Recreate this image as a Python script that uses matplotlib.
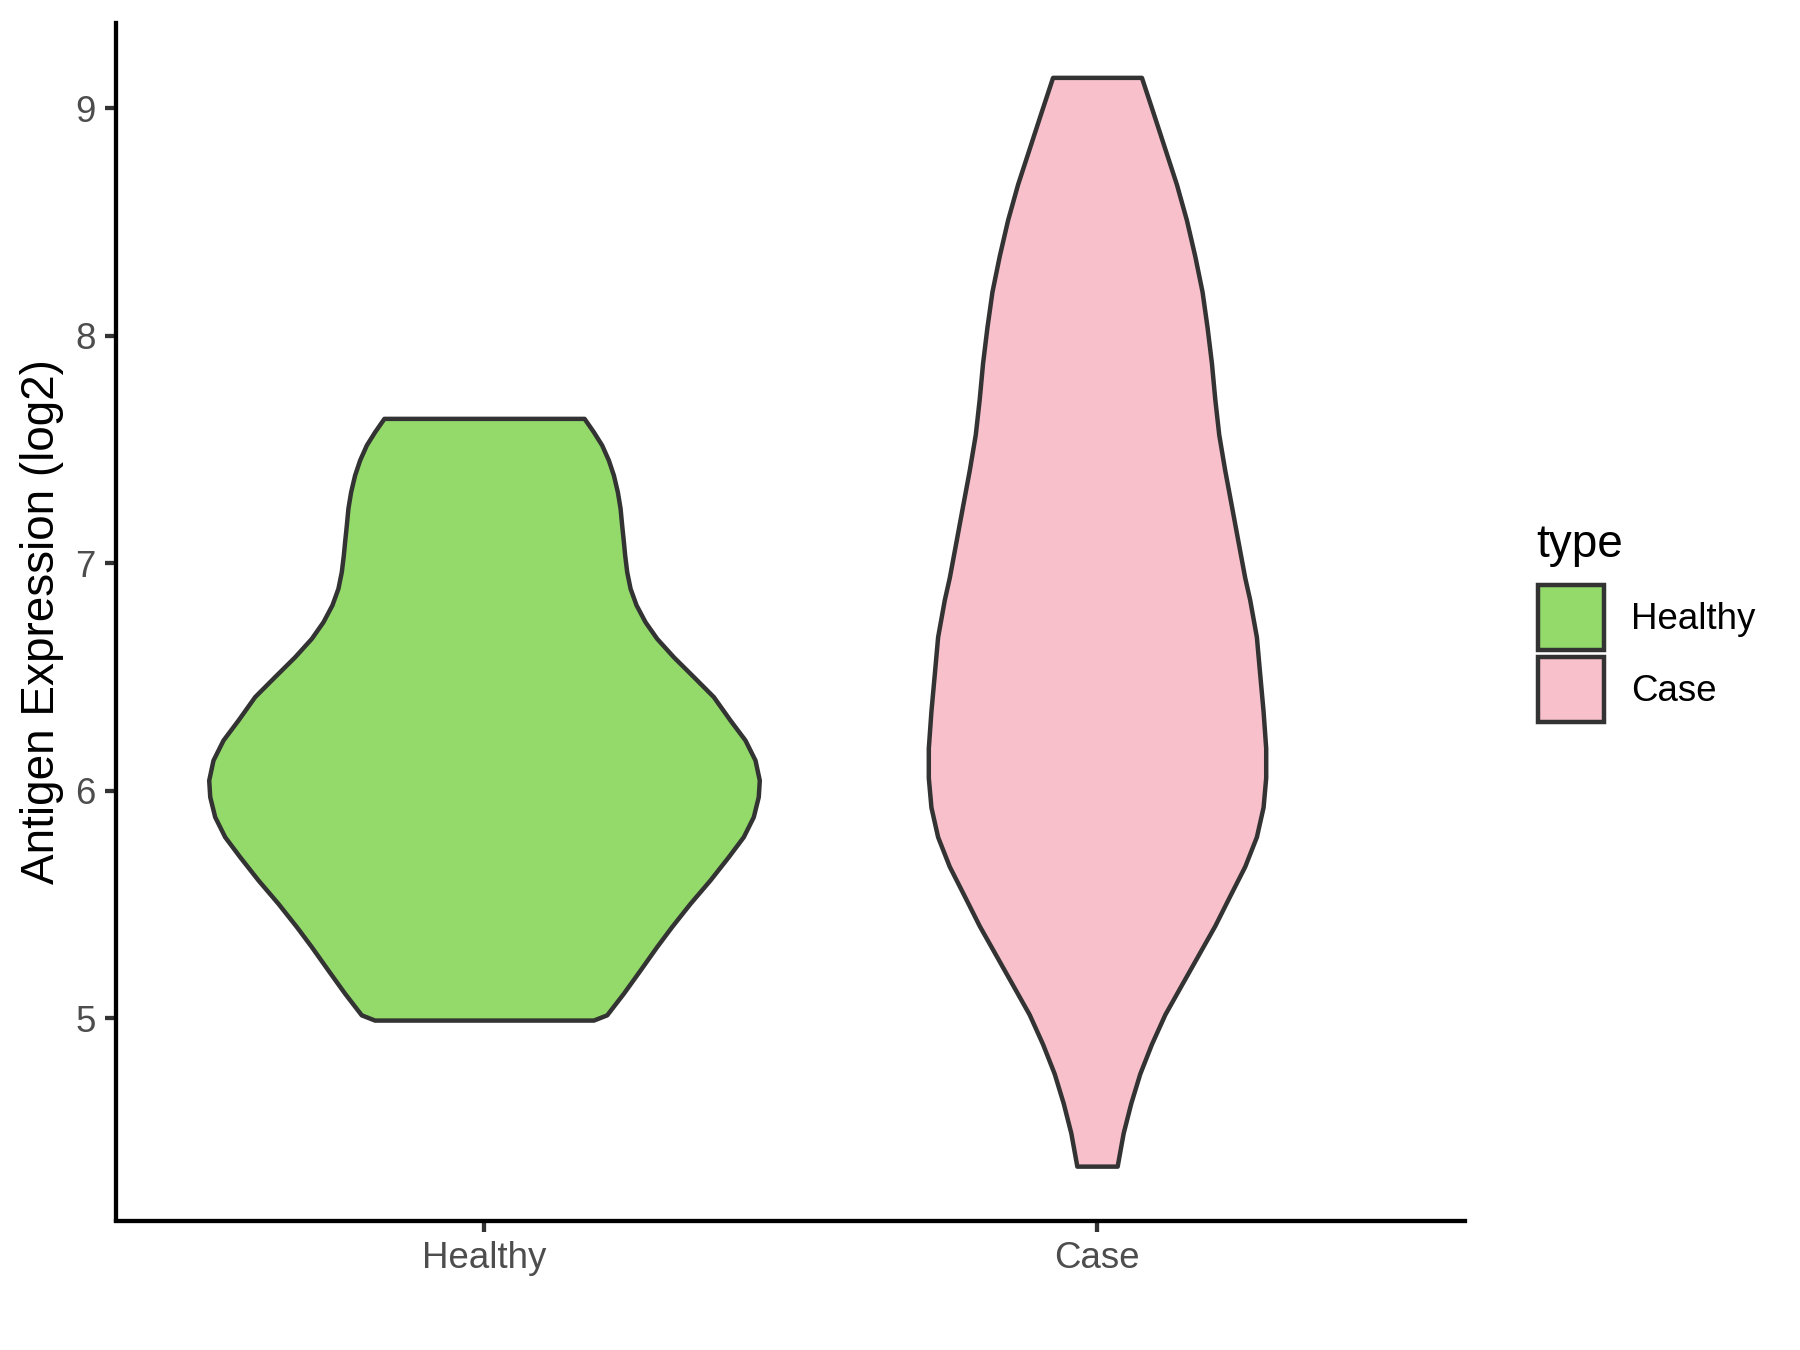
import matplotlib
matplotlib.use("Agg")
import matplotlib.pyplot as plt
from matplotlib.patches import Patch, Rectangle
from matplotlib.legend_handler import HandlerPatch
import numpy as np

plt.rcParams['font.family'] = ['Liberation Sans', 'DejaVu Sans']

# ---- data ----
categories = ["Healthy", "Case"]
colors = ["#93DA6B", "#F8C0CB"]
edge_color = "#333333"

# violin outline profiles: y value and half-width (x data units)
healthy_y = [7.637, 7.578, 7.520, 7.454, 7.388, 7.314, 7.242, 7.168, 7.095, 7.036,
             6.963, 6.890, 6.817, 6.743, 6.670, 6.589, 6.502, 6.414, 6.311, 6.223,
             6.135, 6.047, 5.974, 5.886, 5.798, 5.710, 5.608, 5.505, 5.403, 5.315,
             5.212, 5.110, 5.015, 4.992]
healthy_hw = [0.1633, 0.1785, 0.1920, 0.2029, 0.2111, 0.2176, 0.2220, 0.2246, 0.2274, 0.2295,
              0.2328, 0.2383, 0.2481, 0.2627, 0.2817, 0.3089, 0.3415, 0.3741, 0.4013, 0.4258,
              0.4421, 0.4491, 0.4474, 0.4393, 0.4230, 0.3985, 0.3687, 0.3361, 0.3061, 0.2817,
              0.2546, 0.2274, 0.2002, 0.1785]

case_y = [9.136, 8.980, 8.823, 8.666, 8.509, 8.351, 8.194, 8.037, 7.880, 7.723,
          7.566, 7.409, 7.252, 7.095, 6.937, 6.840, 6.677, 6.514, 6.351, 6.188,
          6.058, 5.928, 5.798, 5.668, 5.538, 5.407, 5.277, 5.147, 5.017, 4.887,
          4.757, 4.627, 4.496, 4.398, 4.350]
case_hw = [0.0725, 0.0916, 0.1106, 0.1296, 0.1459, 0.1595, 0.1714, 0.1796, 0.1867, 0.1921,
           0.1986, 0.2084, 0.2193, 0.2301, 0.2410, 0.2491, 0.2600, 0.2654, 0.2709, 0.2752,
           0.2752, 0.2709, 0.2600, 0.2410, 0.2165, 0.1921, 0.1649, 0.1377, 0.1106, 0.0888,
           0.0698, 0.0551, 0.0427, 0.0361, 0.0329]

profiles = [(healthy_y, healthy_hw), (case_y, case_hw)]
y_ticks = [5, 6, 7, 8, 9]
y_label = "Antigen Expression (log2)"
legend_title = "type"

# ---- figure ----
W, H = 1800, 1350
fig = plt.figure(figsize=(6, 4.5), dpi=300)
ax = fig.add_axes([116.2 / W, 1 - 1220.5 / H, (1464.8 - 116.2) / W, (1220.5 - 23) / H])

positions = np.arange(1, len(categories) + 1)
for pos, (yv, hw), col in zip(positions, profiles, colors):
    yv = np.asarray(yv)
    hw = np.asarray(hw)
    ax.fill_betweenx(yv, pos - hw, pos + hw, facecolor=col, edgecolor=edge_color,
                     linewidth=1.07, joinstyle='round')

ax.set_xlim(0.4, 2.6)
ax.set_ylim(4.111, 9.375)
ax.set_xticks(positions)
ax.set_xticklabels(categories)
ax.set_yticks(y_ticks)

for s in ['top', 'right']:
    ax.spines[s].set_visible(False)
for s in ['left', 'bottom']:
    ax.spines[s].set_linewidth(1.03)
    ax.spines[s].set_color('black')
    ax.spines[s].set_capstyle('projecting')

ax.tick_params(axis='both', length=2.75, width=1.03, color=edge_color,
               labelsize=8.8, labelcolor='#4D4D4D', pad=2.2)
ax.set_ylabel(y_label, fontsize=11, color='black', labelpad=2.75)


def key_patch(legend, orig_handle, xdescent, ydescent, width, height, fontsize):
    inset = 0.89
    return Rectangle((-xdescent, -ydescent + inset), width, height - 2 * inset)


handles = [Patch(facecolor=c, edgecolor=edge_color, linewidth=1.07, label=l)
           for c, l in zip(colors, categories)]
leg = fig.legend(handles=handles, loc='upper left',
                 bbox_to_anchor=(1537.5 / W, 1 - 581.5 / H), bbox_transform=fig.transFigure,
                 frameon=False, fontsize=8.8, handlelength=1.8, handleheight=2.644,
                 labelspacing=0, handletextpad=0.76, borderpad=0, borderaxespad=0,
                 handler_map={Patch: HandlerPatch(patch_func=key_patch)})
fig.text(1536.5 / W, 1 - 556.7 / H, legend_title, fontsize=11, color='black',
         ha='left', va='baseline')

fig.savefig("out.png", dpi=300, facecolor='white')
